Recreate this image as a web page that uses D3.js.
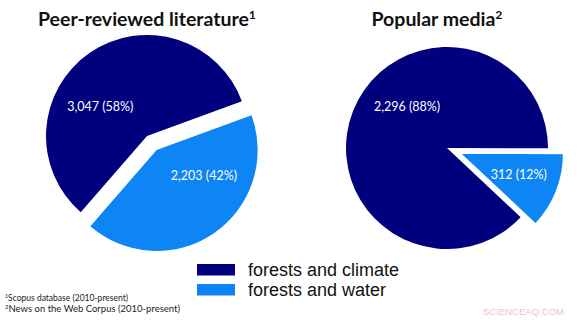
<!DOCTYPE html>
<html>
<head>
<meta charset="utf-8">
<script src="https://cdn.jsdelivr.net/npm/d3@7"></script>
<style>
  body { margin: 0; background: #fff; }
  svg { display: block; }
</style>
</head>
<body>
<div id="chart"></div>
<script>
// data
var categories = ["forests and climate", "forests and water"];
var pieTitles = ["Peer-reviewed literature", "Popular media"];
var titleMarks = ["1", "2"];
var literatureCounts = [3047, 2203];
var mediaCounts = [2296, 312];
var footnotes = ["Scopus database (2010-present)", "News on the Web Corpus (2010-present)"];

var width = 580, height = 323;
var color = d3.scaleOrdinal().domain(categories).range(["#00007f", "#0d85f4"]);
var deg = Math.PI / 180;

// layout per pie: centre, rotation, explode distance, label polar placement
var pies = [
	{ title: pieTitles[0], mark: titleMarks[0], counts: literatureCounts,
	  cx: 147, cy: 136, r: 101, start: 221, explode: 17, titleX: 147, titleW: 218,
	  labels: [[302, 0.545], [118, 0.53]] },
	{ title: pieTitles[1], mark: titleMarks[1], counts: mediaCounts,
	  cx: 447, cy: 148, r: 101, start: 133.2, explode: 16, titleX: 437, titleW: 131,
	  labels: [[316, 0.57], [110, 0.6]] }
];

var svg = d3.select("#chart").append("svg")
	.attr("width", width)
	.attr("height", height);

var fmt = d3.format(",");
var pct = d3.format(".0%");

pies.forEach(function(p) {
	var total = d3.sum(p.counts);
	var pie = d3.pie().sort(null)
		.startAngle(p.start * deg)
		.endAngle(p.start * deg + 2 * Math.PI);
	var arcs = pie(p.counts);
	var arc = d3.arc().innerRadius(0).outerRadius(p.r);

	var g = svg.append("g")
		.attr("transform", "translate(" + p.cx + "," + p.cy + ")");

	// slices; the second one (water) is pulled out
	var slice = g.selectAll("g.slice")
		.data(arcs)
	  .enter().append("g")
		.attr("class", "slice")
		.attr("transform", function(d, i) {
			if (i === 0) return null;
			var mid = (d.startAngle + d.endAngle) / 2;
			return "translate(" + (Math.sin(mid) * p.explode) + "," + (-Math.cos(mid) * p.explode) + ")";
		});

	slice.append("path")
		.attr("d", arc)
		.attr("fill", function(d, i) { return color(categories[i]); });

	slice.append("text")
		.attr("x", function(d, i) { return Math.sin(p.labels[i][0] * deg) * p.labels[i][1] * p.r; })
		.attr("y", function(d, i) { return -Math.cos(p.labels[i][0] * deg) * p.labels[i][1] * p.r; })
		.attr("dy", "0.35em")
		.attr("text-anchor", "middle")
		.attr("fill", "#fff")
		.style("font-family", "Lato, 'Open Sans', sans-serif")
		.style("font-size", "12.5px")
		.text(function(d) { return fmt(d.data) + " (" + pct(d.data / total) + ")"; });

	// title with superscript
	var t = svg.append("text")
		.attr("x", p.titleX)
		.attr("y", 26)
		.attr("text-anchor", "middle")
		.attr("textLength", p.titleW)
		.attr("lengthAdjust", "spacingAndGlyphs")
		.attr("fill", "#111")
		.style("font-family", "Lato, 'Open Sans', sans-serif")
		.style("font-weight", "bold")
		.style("font-size", "19px");
	t.append("tspan").text(p.title);
	t.append("tspan")
		.attr("dy", -7)
		.style("font-size", "12px")
		.text(p.mark);
});

// legend
var legend = svg.append("g")
	.attr("transform", "translate(197,264)");

var item = legend.selectAll("g")
	.data(categories)
  .enter().append("g")
	.attr("transform", function(d, i) { return "translate(0," + (i * 20) + ")"; });

item.append("rect")
	.attr("width", 38)
	.attr("height", 11.5)
	.attr("fill", function(d) { return color(d); });

item.append("text")
	.attr("x", 51)
	.attr("y", 12)
	.attr("fill", "#111")
	.style("font-family", "'Liberation Sans', Arial, sans-serif")
	.style("font-size", "18px")
	.text(function(d) { return d; });

// footnotes
var notes = svg.selectAll("text.note")
	.data(footnotes)
  .enter().append("text")
	.attr("class", "note")
	.attr("x", 5)
	.attr("y", function(d, i) { return 301 + i * 11; })
	.attr("textLength", function(d, i) { return i === 0 ? 123 : 175; })
	.attr("lengthAdjust", "spacingAndGlyphs")
	.attr("fill", "#222")
	.style("font-family", "Lato, 'Open Sans', sans-serif")
	.style("font-size", "9.5px");
notes.append("tspan")
	.attr("dy", -3)
	.style("font-size", "6px")
	.text(function(d, i) { return titleMarks[i]; });
notes.append("tspan")
	.attr("dy", 3)
	.text(function(d) { return d; });

// watermark
svg.append("text")
	.attr("x", 483)
	.attr("y", 315)
	.attr("textLength", 81)
	.attr("lengthAdjust", "spacingAndGlyphs")
	.attr("fill", "#f2c4c4")
	.style("font-family", "'Liberation Sans', Arial, sans-serif")
	.style("font-size", "9.5px")
	.text("SCIENCEAQ.COM");
</script>
</body>
</html>
